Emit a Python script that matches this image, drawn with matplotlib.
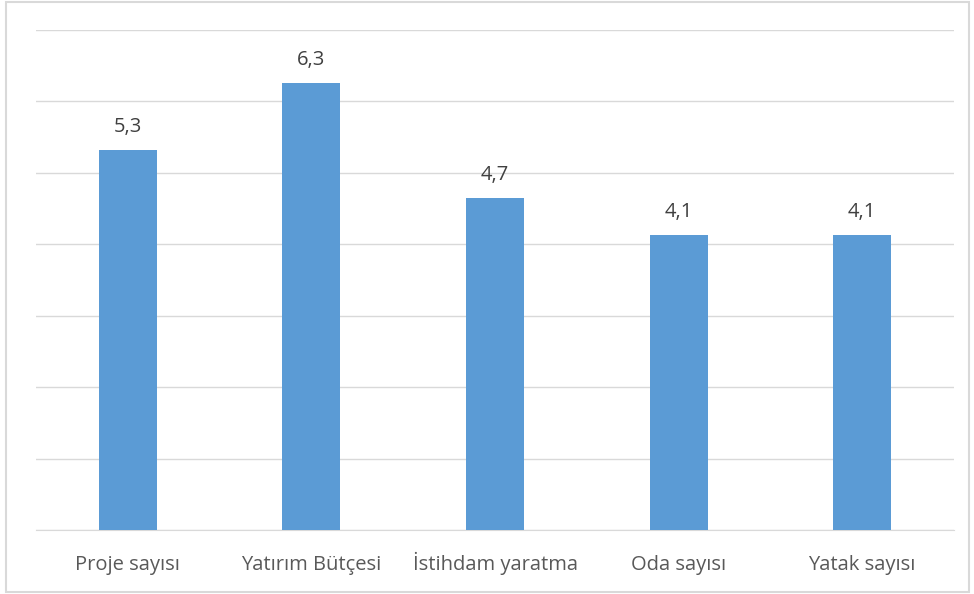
import matplotlib.pyplot as plt
from matplotlib.patches import Rectangle

categories = ['Proje sayısı', 'Yatırım Bütçesi', 'İstihdam yaratma', 'Oda sayısı', 'Yatak sayısı']
values = [5.32, 6.26, 4.65, 4.13, 4.13]
value_labels = ['5,3', '6,3', '4,7', '4,1', '4,1']

plt.rcParams['font.family'] = ['Open Sans', 'DejaVu Sans']

fig = plt.figure(figsize=(9.74, 5.94), dpi=100)
ax = fig.add_axes([0.037, 0.1077, 0.9425, 0.8418])

x = range(len(categories))
bars = ax.bar(x, values, width=0.316, color='#5B9BD5', zorder=3)

for b, lab in zip(bars, value_labels):
    ax.text(b.get_x() + b.get_width() / 2, b.get_height() + 0.25, lab,
            ha='center', va='baseline', fontsize=14.5, color='#404040')

ax.set_xlim(-0.5, len(categories) - 0.5)
ax.set_ylim(0, 7)
ax.set_yticks(range(0, 8))
ax.set_yticklabels([])
ax.tick_params(axis='y', length=0)
ax.tick_params(axis='x', length=0, pad=29, labelsize=14.5, labelcolor='#595959')
ax.set_xticks(list(x))
ax.set_xticklabels(categories)
for t in ax.get_xticklabels():
    t.set_verticalalignment('baseline')
ax.grid(axis='y', color='#D9D9D9', linewidth=1, zorder=0)
for s in ['top', 'left', 'right']:
    ax.spines[s].set_visible(False)
ax.spines['bottom'].set_color('#D9D9D9')

# light frame around the chart area
fig.patches.append(Rectangle((0.006, 0.004), 0.989, 0.992, transform=fig.transFigure,
                             fill=False, edgecolor='#D9D9D9', linewidth=1.5))

fig.savefig('out.png', dpi=100)
